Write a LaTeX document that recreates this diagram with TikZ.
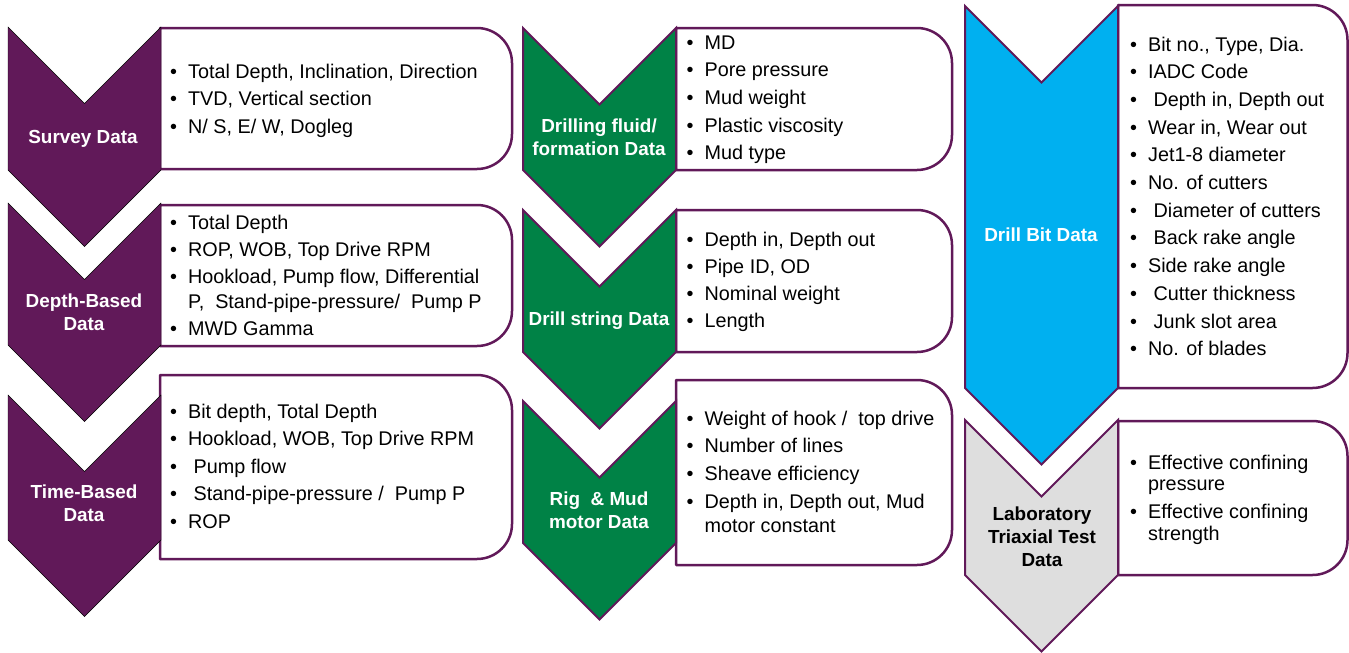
\documentclass[tikz,border=0pt]{standalone}
\usepackage{fontspec}
\setmainfont{Liberation Sans}
\definecolor{dpurple}{RGB}{97,25,89}
\definecolor{dgreen}{RGB}{0,130,70}
\definecolor{dblue}{RGB}{0,176,240}
\definecolor{lgray}{RGB}{222,222,222}
\tikzset{
  boxline/.style={draw=dpurple, line width=2.5pt, fill=white, line join=round},
  chevpurple/.style={fill=dpurple},
  chevgreen/.style={fill=dgreen, draw=dpurple, line width=2pt, line join=miter},
  chevblue/.style={fill=dblue, draw=dpurple, line width=2pt, line join=miter},
  chevgray/.style={fill=lgray, draw=dpurple, line width=2pt, line join=miter},
  body/.style={anchor=base west, inner sep=0pt, font=\fontsize{19.8}{21}\selectfont},
  lab/.style={anchor=base, inner sep=0pt, text=white, font=\fontsize{18.9}{23}\selectfont\bfseries},
  labdark/.style={lab, text=black},
}
% chevron: style, x1, ytop, yside (width 153)
\newcommand\chevshape[4]{%
  \draw[#1] (#2,#3) -- ({#2+76.5},{#3+76.5}) -- ({#2+153},#3) -- ({#2+153},#4)
    -- ({#2+76.5},{#4+76.5}) -- (#2,#4) -- cycle;}
% box with rounded right corners: x1, y1, x2, y2
\newcommand\rbox[4]{%
  \draw[boxline] (#1,#2) -- ({#3-35},#2) .. controls ({#3-15.67},#2) and (#3,{#2+15.67}) .. (#3,{#2+35})
    -- (#3,{#4-35}) .. controls (#3,{#4-15.67}) and ({#3-15.67},#4) .. ({#3-35},#4) -- (#1,#4) -- cycle;}
\begin{document}
\begin{tikzpicture}[x=1pt,y=-1pt]
\useasboundingbox (0,0) rectangle (1349,653);
% ---- boxes ----
\rbox{160}{28}{512}{169}
\rbox{160}{205}{512}{346}
\rbox{160}{375}{512}{559}
\rbox{676}{28}{952}{170}
\rbox{676}{210}{952}{352}
\rbox{676}{380}{952}{565}
\rbox{1118}{5}{1347.5}{388}
\rbox{1118}{421}{1347.5}{575}
% ---- chevrons ----
\chevshape{chevpurple}{8}{27}{170}
\chevshape{chevpurple}{8}{203}{345}
\chevshape{chevpurple}{8}{395}{540}
\chevshape{chevgreen}{523}{28}{170}
\chevshape{chevgreen}{523}{210}{352}
\chevshape{chevgreen}{523}{401}{543}
\chevshape{chevblue}{965}{6}{388}
\chevshape{chevgray}{965}{420}{575}
% ---- labels ----
\node[lab] (l1) at (83,143) {Survey Data};
\node[lab] (l2) at (84,307) {\begin{tabular}[t]{@{}c@{}}Depth-Based\\Data\end{tabular}};
\node[lab] (l3) at (84,498) {\begin{tabular}[t]{@{}c@{}}Time-Based\\Data\end{tabular}};
\node[lab] (l4) at (599,132) {\begin{tabular}[t]{@{}c@{}}Drilling fluid/\\formation Data\end{tabular}};
\node[lab] (l5) at (599,325) {Drill string Data};
\node[lab] (l6) at (599,505) {\begin{tabular}[t]{@{}c@{}}Rig\ \ \& Mud\\motor Data\end{tabular}};
\node[lab] (l7) at (1041,241) {Drill Bit Data};
\node[labdark] (l8) at (1042,520) {\begin{tabular}[t]{@{}c@{}}Laboratory\\Triaxial Test\\Data\end{tabular}};
% ---- body texts ----
\node[body] (t1) at (170,78) {\begin{tabular}[t]{@{}l@{\hspace{11pt}}l@{}}
\textbullet & Total Depth, Inclination, Direction\\[6.6pt]
\textbullet & TVD, Vertical section\\[6.6pt]
\textbullet & N/ S, E/ W, Dogleg
\end{tabular}};
\node[body] (t2) at (170,229) {\begin{tabular}[t]{@{}l@{\hspace{11pt}}l@{}}
\textbullet & Total Depth\\[6.3pt]
\textbullet & ROP, WOB, Top Drive RPM\\[6.6pt]
\textbullet & Hookload, Pump flow, Differential\\[4pt]
 & P,\ \ Stand-pipe-pressure/\ \ Pump P\\[6pt]
\textbullet & MWD Gamma
\end{tabular}};
\node[body] (t3) at (170,418) {\begin{tabular}[t]{@{}l@{\hspace{11pt}}l@{}}
\textbullet & Bit depth, Total Depth\\[6.6pt]
\textbullet & Hookload, WOB, Top Drive RPM\\[6.6pt]
\textbullet & \ Pump flow\\[6.6pt]
\textbullet & \ Stand-pipe-pressure /\ \ Pump P\\[6.6pt]
\textbullet & ROP
\end{tabular}};
\node[body] (t4) at (686.5,49) {\begin{tabular}[t]{@{}l@{\hspace{11pt}}l@{}}
\textbullet & MD\\[6.7pt]
\textbullet & Pore pressure\\[6.7pt]
\textbullet & Mud weight\\[6.7pt]
\textbullet & Plastic viscosity\\[6.7pt]
\textbullet & Mud type
\end{tabular}};
\node[body] (t5) at (686.5,246) {\begin{tabular}[t]{@{}l@{\hspace{11pt}}l@{}}
\textbullet & Depth in, Depth out\\[6.3pt]
\textbullet & Pipe ID, OD\\[6.3pt]
\textbullet & Nominal weight\\[6.3pt]
\textbullet & Length
\end{tabular}};
\node[body] (t6) at (686.5,425) {\begin{tabular}[t]{@{}l@{\hspace{11pt}}l@{}}
\textbullet & Weight of hook /\ \ top drive\\[6.7pt]
\textbullet & Number of lines\\[6.7pt]
\textbullet & Sheave efficiency\\[6.7pt]
\textbullet & Depth in, Depth out, Mud\\[3pt]
 & motor constant
\end{tabular}};
\node[body] (t7) at (1130,51) {\begin{tabular}[t]{@{}l@{\hspace{11pt}}l@{}}
\textbullet & Bit no., Type, Dia.\\[6.7pt]
\textbullet & IADC Code\\[6.7pt]
\textbullet & \ Depth in, Depth out\\[6.7pt]
\textbullet & Wear in, Wear out\\[6.7pt]
\textbullet & Jet1-8 diameter\\[6.7pt]
\textbullet & No. of cutters\\[6.7pt]
\textbullet & \ Diameter of cutters\\[6.7pt]
\textbullet & \ Back rake angle\\[6.7pt]
\textbullet & Side rake angle\\[6.7pt]
\textbullet & \ Cutter thickness\\[6.7pt]
\textbullet & \ Junk slot area\\[6.7pt]
\textbullet & No. of blades
\end{tabular}};
\node[body] (t8) at (1130,469) {\begin{tabular}[t]{@{}l@{\hspace{11pt}}l@{}}
\textbullet & Effective confining\\[0.5pt]
 & pressure\\[6.5pt]
\textbullet & Effective confining\\[1pt]
 & strength
\end{tabular}};
\end{tikzpicture}
\end{document}
